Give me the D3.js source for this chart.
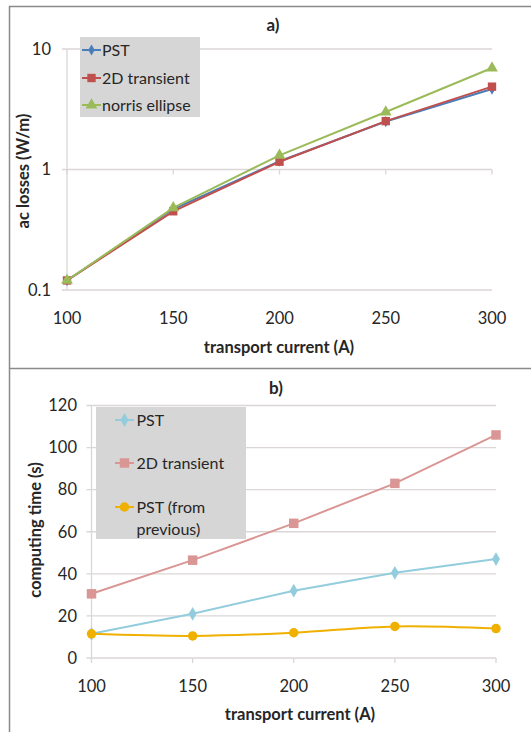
<!DOCTYPE html>
<html>
<head>
<meta charset="utf-8">
<script src="https://cdn.jsdelivr.net/npm/d3@7"></script>
<style>
  html, body { margin: 0; padding: 0; background: #fff; }
  svg { display: block; font-family: Lato, "Open Sans", sans-serif; }
</style>
</head>
<body>
<svg id="chart" width="531" height="732"></svg>
<script>
// Transport current steps (A)
const currents = [100, 150, 200, 250, 300];

// a) AC losses (W/m)
const lossPST = [0.12, 0.47, 1.17, 2.5, 4.65];
const loss2D = [0.12, 0.45, 1.16, 2.52, 4.87];
const lossNorris = [0.12, 0.48, 1.31, 3.0, 6.95];

// b) Computing time (s)
const timePST = [11.5, 21, 32, 40.5, 47];
const time2D = [30.5, 46.5, 64, 83, 106];
const timePrev = [11.5, 10.5, 12, 15, 14];

// Tick labels
const lossTicks = [0.1, 1, 10];
const lossTickLabels = ["0.1", "1", "10"];
const timeTicks = [0, 20, 40, 60, 80, 100, 120];

const svg = d3.select("#chart");
const gridColor = "#dcd6d6";
const textColor = "#262626";
const tickFont = 16.5;
const titleFont = 16.5;

// Panel frames
svg.append("line").attr("x1", 9).attr("x2", 531).attr("y1", 6.5).attr("y2", 6.5)
  .attr("stroke", "#8a8a8a").attr("stroke-width", 1.5);
svg.append("line").attr("x1", 9.5).attr("x2", 9.5).attr("y1", 6).attr("y2", 732)
  .attr("stroke", "#8a8a8a").attr("stroke-width", 1.5);
svg.append("line").attr("x1", 9).attr("x2", 531).attr("y1", 368.5).attr("y2", 368.5)
  .attr("stroke", "#8a8a8a").attr("stroke-width", 1.5);

function symbolPath(type, size) {
  return d3.symbol().type(type).size(size)();
}

function drawPanel(cfg) {
  const g = svg.append("g");
  const x = d3.scaleLinear().domain([100, 300]).range(cfg.xRange);
  const y = cfg.y;
  const [x0, x1] = cfg.xRange;

  // gridlines + y tick labels
  cfg.yTicks.forEach((t, i) => {
    g.append("line").attr("x1", x0 - 5).attr("x2", x1).attr("y1", y(t)).attr("y2", y(t))
      .attr("stroke", gridColor).attr("stroke-width", 1.3);
    g.append("text").attr("x", cfg.yLabelX).attr("y", y(t)).attr("dy", "0.35em")
      .attr("text-anchor", "end").attr("font-size", tickFont).attr("fill", textColor)
      .text(cfg.yTickLabels[i]);
  });
  // y axis line
  g.append("line").attr("x1", x0).attr("x2", x0)
    .attr("y1", y(cfg.yTicks[cfg.yTicks.length - 1])).attr("y2", y(cfg.yTicks[0]))
    .attr("stroke", gridColor).attr("stroke-width", 1.3);
  // x tick marks on the crossing line, with category labels below
  currents.forEach(c => {
    g.append("line").attr("x1", x(c)).attr("x2", x(c))
      .attr("y1", cfg.xCross).attr("y2", cfg.xCross + 5)
      .attr("stroke", gridColor).attr("stroke-width", 1.3);
    g.append("text").attr("x", x(c)).attr("y", cfg.xLabelY).attr("dy", "0.35em")
      .attr("text-anchor", "middle").attr("font-size", tickFont).attr("fill", textColor)
      .text(c);
  });

  // series lines and markers
  cfg.series.forEach(s => {
    const line = d3.line().x((d, i) => x(currents[i])).y(d => y(d))
      .curve(s.smooth ? d3.curveCatmullRom.alpha(0.5) : d3.curveLinear);
    g.append("path").datum(s.values).attr("d", line)
      .attr("fill", "none").attr("stroke", s.color).attr("stroke-width", s.width || 2);
    s.values.forEach((v, i) => {
      g.append("path").attr("d", symbolPath(s.symbol, s.size))
        .attr("transform", `translate(${x(currents[i])},${y(v)})`)
        .attr("fill", s.color);
    });
  });

  // legend
  const L = cfg.legend;
  g.append("rect").attr("x", L.x).attr("y", L.y).attr("width", L.w).attr("height", L.h)
    .attr("fill", "#d6d6d6");
  L.items.forEach(it => {
    const s = cfg.series[it.series];
    g.append("line").attr("x1", L.lineX0).attr("x2", L.lineX1).attr("y1", it.y).attr("y2", it.y)
      .attr("stroke", s.color).attr("stroke-width", s.width || 2);
    g.append("path").attr("d", symbolPath(s.symbol, s.size))
      .attr("transform", `translate(${(L.lineX0 + L.lineX1) / 2},${it.y})`)
      .attr("fill", s.color);
    it.lines.forEach((txt, k) => {
      g.append("text").attr("x", L.textX).attr("y", it.y + k * L.lineGap).attr("dy", "0.35em")
        .attr("font-size", L.fontSize).attr("fill", textColor).text(txt);
    });
  });

  // titles
  g.append("text").attr("x", cfg.title.x).attr("y", cfg.title.y).attr("dy", "0.35em")
    .attr("text-anchor", "middle").attr("font-size", 17).attr("font-weight", "bold")
    .attr("fill", textColor).text(cfg.title.text);
  g.append("text").attr("x", cfg.xTitle.x).attr("y", cfg.xTitle.y).attr("dy", "0.35em")
    .attr("text-anchor", "middle").attr("font-size", titleFont).attr("font-weight", "bold")
    .attr("fill", textColor).text(cfg.xTitle.text);
  g.append("text")
    .attr("transform", `translate(${cfg.yTitle.x},${cfg.yTitle.y}) rotate(-90)`)
    .attr("dy", "0.35em").attr("text-anchor", "middle").attr("font-size", titleFont)
    .attr("font-weight", "bold").attr("fill", textColor).text(cfg.yTitle.text);
}

// a) log-scale losses
const yLoss = d3.scaleLog().domain([0.1, 10]).range([290, 49]);
drawPanel({
  xRange: [67, 492],
  y: yLoss,
  yTicks: lossTicks,
  yTickLabels: lossTickLabels,
  yLabelX: 51,
  xCross: yLoss(1),
  xLabelY: 318,
  series: [
    { values: lossPST, color: "#4a7ebb", symbol: d3.symbolDiamond, size: 36 },
    { values: loss2D, color: "#c0504d", symbol: d3.symbolSquare, size: 70 },
    { values: lossNorris, color: "#9bbb59", symbol: d3.symbolTriangle, size: 60 }
  ],
  legend: {
    x: 80, y: 37, w: 120, h: 80,
    lineX0: 82, lineX1: 101, textX: 102, fontSize: 16, lineGap: 0,
    items: [
      { series: 0, y: 50, lines: ["PST"] },
      { series: 1, y: 78, lines: ["2D transient"] },
      { series: 2, y: 105, lines: ["norris ellipse"] }
    ]
  },
  title: { text: "a)", x: 273, y: 25 },
  xTitle: { text: "transport current (A)", x: 279, y: 347 },
  yTitle: { text: "ac losses (W/m)", x: 23, y: 171 }
});

// b) linear computing time
const yTime = d3.scaleLinear().domain([0, 120]).range([658, 405.5]);
drawPanel({
  xRange: [91.5, 496],
  y: yTime,
  yTicks: timeTicks,
  yTickLabels: timeTicks.map(String),
  yLabelX: 77,
  xCross: yTime(0),
  xLabelY: 686,
  series: [
    { values: timePST, color: "#93cddd", symbol: d3.symbolDiamond, size: 55 },
    { values: time2D, color: "#d99694", symbol: d3.symbolSquare, size: 90 },
    { values: timePrev, color: "#f0b000", symbol: d3.symbolCircle, size: 70, smooth: true }
  ],
  legend: {
    x: 96, y: 407, w: 150, h: 132,
    lineX0: 115, lineX1: 134, textX: 136.5, fontSize: 16, lineGap: 22,
    items: [
      { series: 0, y: 420, lines: ["PST"] },
      { series: 1, y: 463, lines: ["2D transient"] },
      { series: 2, y: 507, lines: ["PST (from", "previous)"] }
    ]
  },
  title: { text: "b)", x: 276, y: 388 },
  xTitle: { text: "transport current (A)", x: 300, y: 714 },
  yTitle: { text: "computing time (s)", x: 35, y: 530 }
});
</script>
</body>
</html>
